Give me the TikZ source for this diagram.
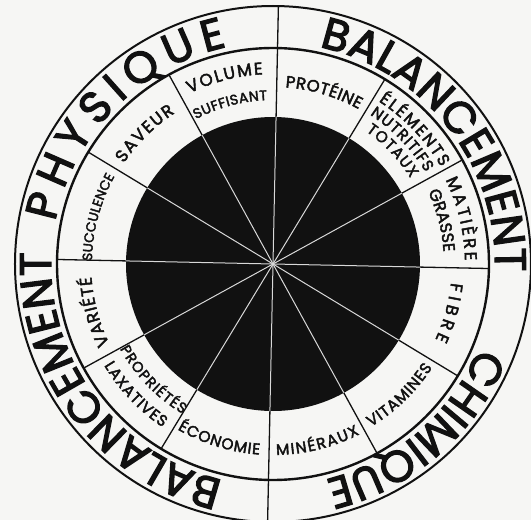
\documentclass[tikz,border=0pt]{standalone}
\usepackage{fontspec}
\setmainfont{Poppins}
\newfontfamily\ringfamily{Poppins}[FakeBold=3]
\newfontfamily\segfamily{Poppins}[FakeBold=2.6]
\usetikzlibrary{decorations.text}
\definecolor{cPaper}{HTML}{F6F6F4}
\definecolor{cInk}{HTML}{111111}
\definecolor{cSpokeIn}{HTML}{D8D8D8}
\newcommand{\ringfont}{\ringfamily\fontsize{44}{44}\selectfont}
\tikzset{
  rim/.style={draw=cInk, line width=2pt},
  rimMid/.style={draw=cInk, line width=2.4pt},
  spoke/.style={draw=cInk, line width=1.3pt},
  spokeIn/.style={draw=cSpokeIn, line width=1pt},
  arclbl/.style={decorate, decoration={text along path, text align=fit to path,
                 text color=cInk}},
}

\begin{document}
\begin{tikzpicture}[x=1pt,y=1pt]
\useasboundingbox[fill=cPaper] (-273,-256) rectangle (258,264);

% ========== DISC AND RINGS ==========
\fill[cInk] (0,0) circle[radius=147];
\draw[rim] (0,0) circle[radius=258];
\draw[rimMid] (0,0) circle[radius=216];

\begin{scope}[rotate=-1.2]
  \foreach \a in {0,30,...,330} {
    \draw[spokeIn] (0,0) -- (\a:147);
    \draw[spoke] (\a:147) -- (\a:216);
  }
  \draw[spoke] (90:216) -- (90:258);
  \draw[spoke] (270:216) -- (270:258);
\end{scope}

% ========== SEGMENT LABELS ==========
% start angle / end angle / baseline radius / font size / text
\foreach \s/\e/\r/\sz/\txt in {
    116/93/190/17/VOLUME, 118/92/164/14/SUFFISANT,
    86/61/177/16.5/PROTÉINE,
    57/30/194/16.5/ÉLÉMENTS, 57/31/178/15.5/NUTRITIFS, 55/32/162/15.5/TOTAUX,
    26/1/192/17/MATIÈRE, 25/4/171/16.5/GRASSE,
    -6/-25/179/17/FIBRE,
    -59/-33/190/15.5/VITAMINES,
    -89/-63/191/15.5/MINÉRAUX,
    -120/-94/191/15.5/ÉCONOMIE,
    -151/-121/175/14.5/PROPRIÉTÉS, -149/-124/197/15.5/LAXATIVES,
    -154/-176/182/17/VARIÉTÉ,
    179/151/181/13.5/SUCCULENCE,
    146/123/180/17/SAVEUR} {
  \edef\lbl{|\noexpand\segfamily\noexpand\fontsize{\sz}{\sz}\noexpand\selectfont|\txt}
  \path[arclbl, decoration={text/.expand once=\lbl}]
    (\s:\r) arc[start angle=\s, end angle=\e, radius=\r];
}

% ========== OUTER RING TEXT ==========
\path[arclbl, decoration={text={|\ringfont|PHYSIQUE}}]
  (169:222) arc[start angle=169, end angle=102, radius=222];
\path[arclbl, decoration={text={|\ringfont|BALANCEMENT}}]
  (78:222) arc[start angle=78, end angle=-2, radius=222];
\path[arclbl, decoration={text={|\ringfont|CHIMIQUE}}]
  (-22:222) arc[start angle=-22, end angle=-76, radius=222];
\path[arclbl, decoration={text={|\ringfont|BALANCEMENT}}]
  (-103:222) arc[start angle=-103, end angle=-183, radius=222];

\end{tikzpicture}
\end{document}
